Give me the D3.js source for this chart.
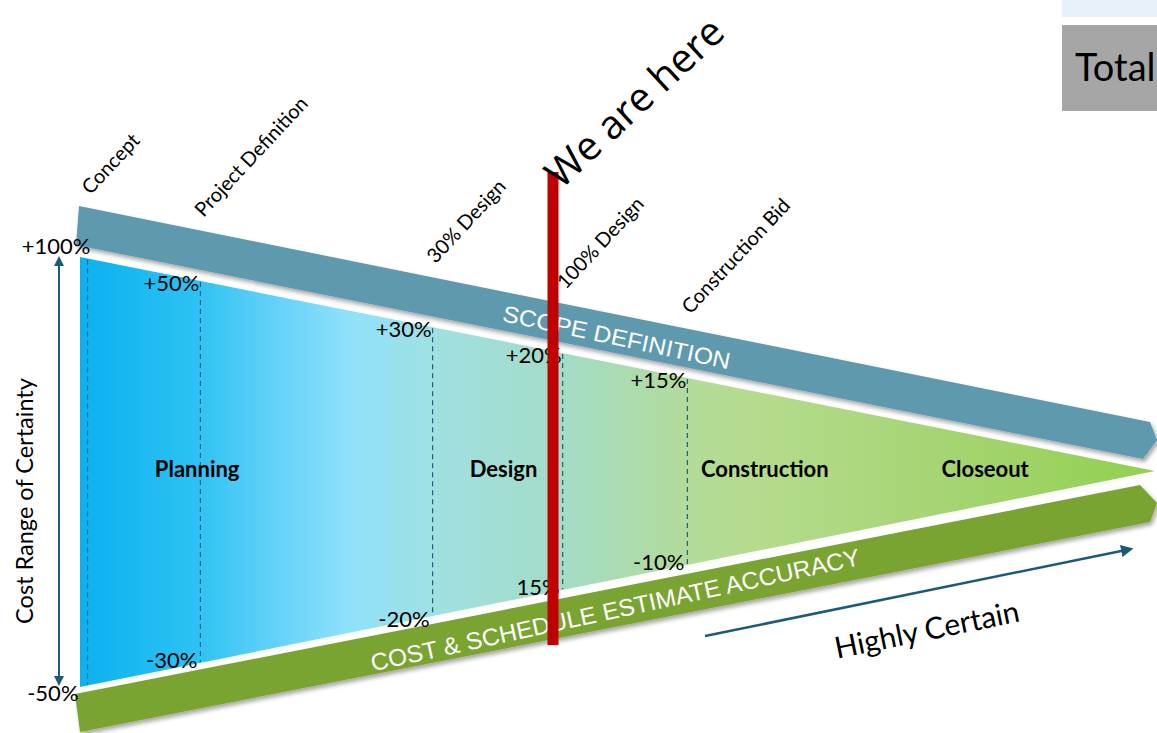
<!DOCTYPE html>
<html>
<head>
<meta charset="utf-8">
<script src="https://cdn.jsdelivr.net/npm/d3@7"></script>
<style>
  html, body { margin: 0; padding: 0; background: #fff; }
  svg { display: block; }
</style>
</head>
<body>
<svg id="chart" width="1157" height="733"></svg>
<script>
// ---- data ----
const milestones = ["Concept", "Project Definition", "30% Design", "100% Design", "Construction Bid"];
const milestoneProgress = [0.7, 11.2, 32.8, 44.9, 56.5];   // % of project timeline
const upperLabels = ["+100%", "+50%", "+30%", "+20%", "+15%"];
const lowerLabels = ["-50%", "-30%", "-20%", "15%", "-10%"];
const phases = ["Planning", "Design", "Construction", "Closeout"];
const phaseProgress = [10.9, 39.4, 63.7, 84.2];
const currentProgress = 44.0;
const currentLabel = "We are here";
const scopeLabel = "SCOPE DEFINITION";
const accuracyLabel = "COST & SCHEDULE ESTIMATE ACCURACY";
const yAxisLabel = "Cost Range of Certainty";
const trendLabel = "Highly Certain";
const cornerLabel = "Total";

// ---- scales ----
const svg = d3.select("#chart");
const x = d3.scaleLinear().domain([0, 100]).range([80, 1155]);
const yTop = d3.scaleLinear().domain([0, 100]).range([257, 471]);
const yBot = d3.scaleLinear().domain([0, 100]).range([687, 471]);

const defs = svg.append("defs");
const grad = defs.append("linearGradient").attr("id", "funnelGrad")
  .attr("gradientUnits", "userSpaceOnUse")
  .attr("x1", x(0)).attr("x2", x(100)).attr("y1", 0).attr("y2", 0);
[[0, "#0bb1ef"], [0.11, "#2ec2f3"], [0.17, "#5ccff7"], [0.25, "#8fe1fb"],
 [0.33, "#a0e0e2"], [0.45, "#a3dcc6"], [0.56, "#b2db9c"], [0.62, "#b5dc8e"],
 [0.78, "#a8d577"], [1, "#92d050"]].forEach(([o, c]) =>
  grad.append("stop").attr("offset", o).attr("stop-color", c));

const shadow = defs.append("filter").attr("id", "shadow")
  .attr("x", "-5%").attr("y", "-20%").attr("width", "110%").attr("height", "140%");
shadow.append("feDropShadow").attr("dx", 2).attr("dy", 3).attr("stdDeviation", 2)
  .attr("flood-color", "#000").attr("flood-opacity", 0.35);

const arrowColor = "#1b5a78";
defs.append("marker").attr("id", "arrowHead").attr("viewBox", "0 0 10 10")
  .attr("refX", 8).attr("refY", 5).attr("markerWidth", 5).attr("markerHeight", 5)
  .attr("orient", "auto-start-reverse").attr("markerUnits", "strokeWidth")
  .append("path").attr("d", "M0,0 L10,5 L0,10 z").attr("fill", arrowColor);

const labFont = "Lato, 'Open Sans', sans-serif";

// ---- corner boxes ----
svg.append("rect").attr("x", 1062).attr("y", 0).attr("width", 95).attr("height", 17).attr("fill", "#e8f1f9");
svg.append("rect").attr("x", 1062).attr("y", 25).attr("width", 95).attr("height", 86).attr("fill", "#a6a6a6");
svg.append("text").attr("x", 1075).attr("y", 81).attr("font-family", labFont)
  .attr("font-size", 38).attr("fill", "#000").text(cornerLabel);

// ---- funnel ----
const funnelPts = [[x(0), yTop(0)], [x(100), yTop(100)], [x(0), yBot(0)]];
svg.append("path").attr("d", d3.line()(funnelPts) + "Z").attr("fill", "url(#funnelGrad)");

// ---- bands ----
const scopeBand = [[79, 206], [1150, 422], [1157, 440], [1143, 459], [76, 245]];
const accBand = [[75, 694], [1140, 485], [1157, 503], [1150, 522], [80, 732]];
svg.append("path").attr("d", d3.line()(scopeBand) + "Z").attr("fill", "#5e99ad").attr("filter", "url(#shadow)");
svg.append("path").attr("d", d3.line()(accBand) + "Z").attr("fill", "#7aa431").attr("filter", "url(#shadow)");

svg.append("text").attr("transform", "translate(615,345) rotate(12)")
  .attr("text-anchor", "middle").attr("font-family", "'Liberation Sans', Arial, sans-serif")
  .attr("font-size", 23).attr("fill", "#fff")
  .attr("textLength", 232).attr("lengthAdjust", "spacingAndGlyphs").text(scopeLabel);
svg.append("text").attr("transform", "translate(617,618) rotate(-12.3)")
  .attr("text-anchor", "middle").attr("font-family", "'Liberation Sans', Arial, sans-serif")
  .attr("font-size", 24).attr("fill", "#fff")
  .attr("textLength", 500).attr("lengthAdjust", "spacingAndGlyphs").text(accuracyLabel);

// ---- milestone dashed lines ----
const dashColor = "#1f5f7a";
svg.selectAll("line.ms").data(milestoneProgress).join("line").attr("class", "ms")
  .attr("x1", d => x(d)).attr("x2", d => x(d))
  .attr("y1", d => yTop(d) + 1).attr("y2", d => yBot(d) - 1)
  .attr("stroke", dashColor).attr("stroke-width", 1.2).attr("stroke-dasharray", "5,4");

// ---- milestone names (rotated) ----
svg.selectAll("text.msName").data(milestones).join("text").attr("class", "msName")
  .attr("transform", (d, i) => `translate(${x(milestoneProgress[i]) + 3},${yTop(milestoneProgress[i]) - 63}) rotate(-47)`)
  .attr("font-family", labFont).attr("font-size", 20).attr("fill", "#000").text(d => d);

// ---- upper / lower percent labels ----
svg.selectAll("text.up").data(upperLabels).join("text").attr("class", "up")
  .attr("x", (d, i) => i === 0 ? x(milestoneProgress[i]) + 3 : x(milestoneProgress[i]) - 1)
  .attr("y", (d, i) => i === 0 ? yTop(milestoneProgress[i]) - 4 : yTop(milestoneProgress[i]) + 10)
  .attr("text-anchor", "end").attr("font-family", labFont).attr("font-size", 22).attr("fill", "#000")
  .text(d => d);
svg.selectAll("text.low").data(lowerLabels).join("text").attr("class", "low")
  .attr("x", (d, i) => i === 0 ? x(milestoneProgress[i]) - 9 : x(milestoneProgress[i]) - 3)
  .attr("y", (d, i) => i === 0 ? yBot(milestoneProgress[i]) + 16 : yBot(milestoneProgress[i]) + (i === 2 ? 11 : 5))
  .attr("text-anchor", "end").attr("font-family", labFont).attr("font-size", 22).attr("fill", "#000")
  .text(d => d);

// ---- phases ----
svg.selectAll("text.phase").data(phases).join("text").attr("class", "phase")
  .attr("x", (d, i) => x(phaseProgress[i])).attr("y", 477)
  .attr("text-anchor", "middle").attr("font-family", labFont).attr("font-weight", "bold")
  .attr("font-size", 22).attr("fill", "#000").text(d => d);

// ---- y axis arrow & label ----
svg.append("line").attr("x1", 59).attr("x2", 59).attr("y1", 258).attr("y2", 684)
  .attr("stroke", arrowColor).attr("stroke-width", 2)
  .attr("marker-start", "url(#arrowHead)").attr("marker-end", "url(#arrowHead)");
svg.append("text").attr("transform", "translate(33,501) rotate(-90)")
  .attr("text-anchor", "middle").attr("font-family", labFont).attr("font-size", 23.5)
  .attr("fill", "#000").text(yAxisLabel);

// ---- trend arrow ----
svg.append("line").attr("x1", 705).attr("y1", 636).attr("x2", 1131).attr("y2", 549)
  .attr("stroke", arrowColor).attr("stroke-width", 2.5).attr("marker-end", "url(#arrowHead)");
svg.append("text").attr("transform", "translate(929,640) rotate(-11.5)")
  .attr("text-anchor", "middle").attr("font-family", labFont).attr("font-size", 30)
  .attr("fill", "#000").text(trendLabel);

// ---- current position ----
svg.append("rect").attr("x", x(currentProgress) - 5.5).attr("y", 172)
  .attr("width", 11).attr("height", 473).attr("fill", "#c00000");
svg.append("text").attr("transform", `translate(${x(currentProgress) + 8},190) rotate(-43)`)
  .attr("font-family", "'Open Sans', sans-serif").attr("font-size", 40)
  .attr("fill", "#000").text(currentLabel);
</script>
</body>
</html>
